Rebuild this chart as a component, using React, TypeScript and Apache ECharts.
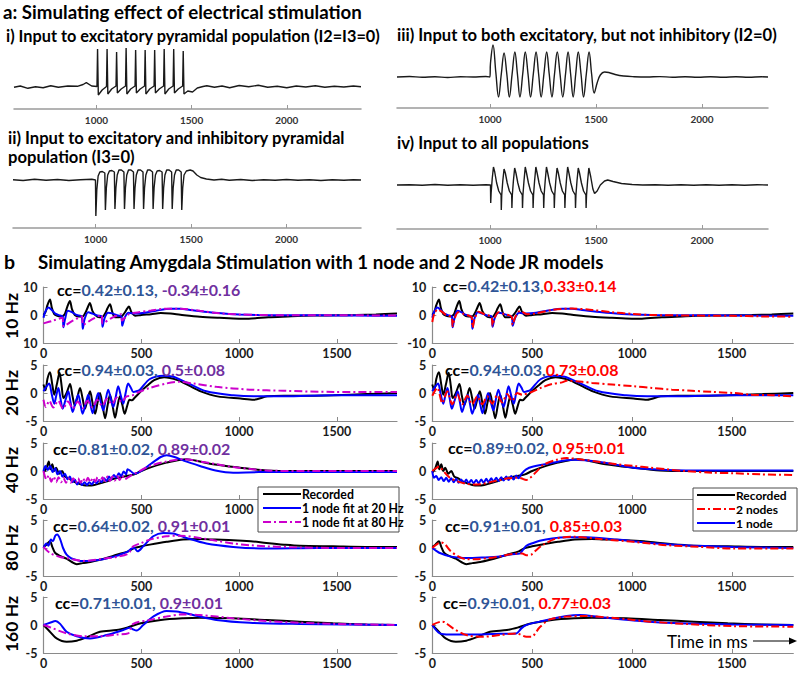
import React, { useEffect, useRef } from "react";
import * as echarts from "echarts";

type Pt = [number, number];

// ---------- Panel a: simulated responses (arbitrary units, 0 = resting level) ----------
const simI: Pt[] = [
  [567, -0.3], [600, 1], [640, -1.3], [680, 0.3], [720, -0.7], [760, 1.3], [800, -0.3], [850, 1], [900, 0.7], [930, 2.5], [947, 4.3], [975, 1], [1003, 0.5],
  [1006, 38], [1010, -8], [1030, -3], [1053, 0.5],
  [1056, 38], [1060, -7], [1080, -2], [1103, 1],
  [1106, 35], [1110, -6], [1130, -2], [1153, 1],
  [1156, 39], [1160, -7], [1180, -2], [1203, 1],
  [1206, 37], [1210, -6], [1230, -2], [1253, 1],
  [1256, 37], [1260, -7], [1280, -2], [1303, 1],
  [1306, 37], [1310, -6], [1330, -2], [1353, 1],
  [1356, 38], [1360, -7], [1380, -2], [1403, 1],
  [1406, 38], [1410, -6], [1430, -2], [1453, 1],
  [1456, 36], [1460, -7], [1480, -4], [1505, -5], [1530, -1], [1560, 0.5], [1580, 1.3], [1620, -0.3], [1660, 1], [1700, -0.7],
  [1750, 1.5], [1800, 0.3], [1850, 1.7], [1900, -0.3], [1950, 0.7], [2000, -0.7], [2050, 1], [2100, 0], [2150, 1.3], [2200, -0.3],
  [2250, 0.7], [2300, 0], [2350, 1], [2390, 0.3],
];

const simII: Pt[] = [
  [567, 0.3], [620, -0.5], [680, 0.7], [740, -0.3], [800, 0.5], [860, -0.5], [920, 0.3], [980, 0.7], [999, 0],
  [1001, -36], [1006, -10], [1013, 4], [1022, 8], [1035, 8.5], [1048, 7],
  [1051, -30], [1056, -8], [1063, 5], [1072, 9], [1085, 9.5], [1098, 8],
  [1101, -29], [1106, -8], [1113, 5], [1122, 10], [1135, 10], [1148, 8],
  [1151, -29], [1156, -8], [1163, 5], [1172, 10], [1185, 10], [1198, 8],
  [1201, -29], [1206, -8], [1213, 5], [1222, 10], [1235, 10], [1248, 8],
  [1251, -29], [1256, -8], [1263, 5], [1272, 10], [1285, 10], [1298, 8],
  [1301, -29], [1306, -8], [1313, 5], [1322, 9], [1335, 9.5], [1348, 8],
  [1351, -29], [1356, -8], [1363, 5], [1372, 10], [1385, 10], [1398, 8],
  [1401, -29], [1406, -8], [1413, 5], [1422, 10], [1435, 10], [1448, 8],
  [1451, -30], [1456, -8], [1463, 5], [1475, 9], [1495, 10], [1510, 9], [1530, 5], [1550, 2.5], [1580, 1], [1620, 0],
  [1660, 0.7], [1700, -0.3], [1760, 0.5], [1820, -0.5], [1880, 0.3], [1940, -0.3], [2000, 0.5], [2060, -0.3], [2120, 0.3],
  [2180, -0.5], [2240, 0.3], [2300, -0.3], [2350, 0.3], [2390, 0],
];

const simIII: Pt[] = [
  [561, 0], [620, 0.5], [680, -0.3], [740, 0.3], [800, -0.5], [860, 0.3], [920, 0], [980, 0.5], [999, 0],
  [1002, 14], [1014, 32], [1027, 5], [1040, -20], [1053, 3], [1066, 24], [1079, 3], [1091, -20], [1104, 3], [1117, 25],
  [1129, 3], [1141, -20], [1154, 3], [1166, 25], [1179, 3], [1191, -20], [1204, 3], [1217, 25], [1229, 3], [1241, -20],
  [1254, 3], [1267, 25], [1279, 3], [1292, -20], [1304, 3], [1317, 25], [1330, 3], [1343, -20], [1356, 3], [1368, 25],
  [1380, 3], [1392, -20], [1404, 3], [1416, 25], [1429, 3], [1441, -20], [1454, 3], [1467, 25], [1479, 3], [1491, -16],
  [1505, -6], [1520, 2], [1540, 5], [1560, 4.5], [1590, 2.5], [1630, 1], [1680, 0.3], [1740, 0], [1800, 0.4], [1860, -0.2],
  [1920, 0.3], [1980, -0.3], [2040, 0.2], [2100, -0.2], [2160, 0.3], [2220, -0.2], [2280, 0.2], [2311, 0],
];

const simIV: Pt[] = [
  [561, 0], [620, 0.3], [680, -0.3], [740, 0.5], [800, -0.3], [860, 0.3], [920, -0.3], [980, 0.3], [1002, 0],
  [1003, -18], [1005, -8], [1010, 6], [1016, 18], [1022, 13], [1031, 2], [1041, -6], [1052, -10],
  [1053, -25], [1055, -10], [1060, 4], [1066, 16], [1072, 12], [1081, 2], [1091, -6], [1102, -10],
  [1103, -23], [1105, -10], [1110, 4], [1116, 17], [1122, 12], [1131, 2], [1141, -6], [1152, -10],
  [1153, -23], [1155, -10], [1160, 4], [1166, 18], [1172, 12], [1181, 2], [1191, -6], [1202, -10],
  [1203, -23], [1205, -10], [1210, 4], [1216, 18], [1222, 12], [1231, 2], [1241, -6], [1252, -10],
  [1253, -23], [1255, -10], [1260, 4], [1266, 18], [1272, 12], [1281, 2], [1291, -6], [1302, -10],
  [1303, -23], [1305, -10], [1310, 4], [1316, 17], [1322, 12], [1331, 2], [1341, -6], [1352, -10],
  [1353, -23], [1355, -10], [1360, 4], [1366, 18], [1372, 12], [1381, 2], [1391, -6], [1402, -10],
  [1403, -23], [1405, -10], [1410, 4], [1416, 17], [1422, 12], [1431, 2], [1441, -6], [1452, -10],
  [1453, -23], [1455, -10], [1460, 4], [1466, 17], [1475, 8], [1485, -4], [1493, -8.5], [1505, -6], [1520, 0], [1540, 4],
  [1555, 5], [1580, 3.5], [1620, 1.5], [1670, 0.5], [1720, 0], [1780, 0.3], [1840, -0.2], [1900, 0.3], [1960, -0.2],
  [2020, 0.2], [2080, -0.3], [2140, 0.2], [2200, -0.2], [2260, 0.3], [2311, 0],
];

// ---------- Panel b: recorded vs. model responses (mV) ----------
const rec10: Pt[] = [
  [0, 0], [10, 1], [20, 3.5], [33, 5.5], [43, 2.5], [55, 0.3], [70, -0.3], [90, -0.5], [100, -0.3], [110, 0.5], [122, 3], [135, 5],
  [146, 2], [160, 0], [180, -0.5], [200, -0.5], [212, 0.5], [225, 2.5], [237, 4.3], [250, 1.5], [265, 0], [285, -0.8], [300, -0.8],
  [315, 0.5], [328, 2.5], [340, 3.8], [352, 1], [365, -0.8], [385, -0.8], [400, -0.5], [415, 0.8], [428, 2.3], [437, 3], [450, 1],
  [470, -0.3], [500, 0], [550, 0.3], [600, 0.7], [650, 0.5], [700, 0.1], [800, -0.6], [900, -1], [1000, -1.3], [1050, -1.3],
  [1150, -0.8], [1250, -0.5], [1320, -0.3], [1400, -0.2], [1500, -0.1], [1600, 0], [1700, 0.2], [1808, 0.5],
];
const blue10: Pt[] = [
  [0, -1], [8, 1], [25, 2.7], [40, 2], [60, 0.5], [85, -0.2], [98, -0.5], [102, -4.4], [110, -1.5], [125, 1.5], [145, 1], [170, 0],
  [195, -0.5], [201, -4.9], [210, -1.5], [228, 1], [250, 0.5], [275, -0.2], [297, -0.5], [302, -4.2], [312, -1.2], [330, 0.8],
  [355, 0.5], [380, -0.2], [398, -0.5], [403, -3.8], [415, -1], [435, 0.8], [470, 0.5], [520, 0.8], [580, 1.6], [650, 2.2],
  [700, 2.2], [750, 1.8], [850, 1], [950, 0.4], [1000, 0.2], [1100, 0], [1200, -0.1], [1400, -0.1], [1600, -0.2], [1808, -0.3],
];
const mag10: Pt[] = [
  [0, -3], [50, -2], [97, -1], [102, -4], [150, -2], [197, -0.5], [202, -3.5], [250, -1.5], [297, 0], [302, -3], [350, -1],
  [397, 0.3], [402, -2], [430, 0], [470, 0.8], [550, 1.6], [620, 2.2], [700, 2.2], [800, 1.5], [900, 0.6], [1000, 0.2],
  [1100, 0], [1300, -0.1], [1500, -0.1], [1808, -0.2],
];
const red10: Pt[] = [
  [0, -2.5], [10, 0.5], [28, 2], [45, 1.3], [70, 0], [97, -0.8], [102, -4], [112, -1.2], [130, 1], [160, 0.3], [197, -0.8],
  [202, -4.5], [212, -1.3], [232, 1.2], [260, 0.3], [297, -0.8], [302, -3.8], [312, -1], [332, 1], [360, 0.3], [397, -0.6],
  [402, -3.5], [415, -0.8], [440, 1.5], [475, 0.3], [520, 0.6], [600, 1.8], [700, 2.3], [800, 1.8], [900, 1], [1000, 0.4],
  [1100, 0], [1300, -0.2], [1500, -0.3], [1650, -0.5], [1808, -0.6],
];

const rec20: Pt[] = [
  [0, 1.5], [10, 0.5], [20, 2.5], [33, 3.7], [45, 1.5], [55, -0.3], [68, 1.5], [82, 3.6], [93, 1.2], [102, -0.9], [118, 0],
  [136, 1.6], [148, -0.5], [160, -2.2], [173, -0.8], [187, 0.9], [200, -1], [212, -2.8], [225, -1.2], [238, 0.3], [251, -1.8],
  [264, -3.7], [276, -1.8], [289, 0], [302, -2.2], [315, -4.5], [328, -2.2], [340, -0.3], [353, -2.2], [366, -4.4], [378, -2.4],
  [391, -0.6], [403, -2.1], [415, -3.7], [428, -2.3], [440, -1.2], [452, -1.3], [465, -0.9], [498, 0.3], [530, 1.3], [566, 2.3],
  [617, 2.8], [685, 2.3], [745, 1.3], [804, 0.3], [889, -0.6], [1008, -1], [1076, -1.2], [1144, -0.6], [1230, -0.5],
  [1314, -0.5], [1484, -0.4], [1654, -0.2], [1808, 0],
];
const blue20: Pt[] = [
  [0, 0.3], [12, 1], [29, 1.7], [42, -0.2], [55, -1.9], [65, -0.5], [76, 0.9], [87, -1], [98, -2.8], [112, -1.3], [127, 0.3],
  [138, -1.6], [149, -3.4], [163, -1.8], [178, -0.3], [189, -2], [200, -3.7], [215, -2], [229, -0.3], [240, -2], [251, -3.6],
  [265, -1.8], [280, 0], [293, -1.6], [306, -3.1], [318, -1.2], [331, 0.6], [344, -1], [357, -2.5], [370, -0.6], [382, 1.2],
  [395, -0.4], [408, -1.9], [420, 0], [433, 1.7], [446, 1], [459, 0.2], [475, 0.3], [493, 0.6], [544, 2.5], [612, 3.1],
  [663, 2.9], [731, 1.9], [833, 0.3], [970, -0.4], [1076, -0.6], [1229, -0.6], [1484, -0.4], [1808, -0.4],
];
const mag20: Pt[] = [
  [0, -1.2], [12, -2.5], [30, -1.4], [50, -2.6], [75, -1.4], [100, -2.8], [125, -1.5], [150, -2.8], [175, -1.5], [200, -2.7],
  [225, -1.4], [250, -2.6], [275, -1.2], [300, -2.3], [325, -1], [350, -2], [375, -0.8], [400, -1.6], [425, -0.6], [450, -0.5],
  [490, 0.2], [544, 0.9], [629, 1.7], [697, 2], [765, 1.7], [884, 1.1], [1055, 0.6], [1229, 0.4], [1484, 0.2], [1808, 0.2],
];
const red20: Pt[] = [
  [0, -0.5], [25, 0.9], [50, -1.8], [75, 0.3], [100, -2], [125, -0.2], [150, -2], [175, -0.5], [200, -2], [225, -0.6],
  [250, -2], [275, -0.6], [300, -1.9], [325, -0.4], [350, -1.7], [375, -0.2], [400, -1.4], [425, 0], [450, -0.3], [500, 0.2],
  [550, 1], [600, 1.6], [650, 1.9], [673, 2.2], [750, 2], [800, 1.8], [900, 1.5], [1010, 1.2], [1100, 0.9], [1200, 0.6],
  [1300, 0.4], [1400, 0.2], [1508, 0], [1600, -0.3], [1700, -0.4], [1808, -0.6],
];

const rec40: Pt[] = [
  [0, -0.3], [15, 0.5], [27, 1.7], [35, 0.3], [45, 1.2], [55, 0], [65, 0.6], [80, -0.5], [95, 0], [110, -1], [130, -1.3],
  [150, -1.8], [175, -2.2], [200, -2.5], [230, -2.6], [260, -2.5], [290, -2.2], [320, -1.9], [350, -1.5], [380, -1.2],
  [410, -1], [440, -0.8], [464, -0.6], [500, 0], [544, 0.6], [629, 1.5], [731, 2.1], [800, 1.7], [867, 1.2], [1004, 0.6],
  [1140, 0.1], [1300, 0], [1500, 0], [1808, 0],
];
const blue40L: Pt[] = [
  [0, 0], [10, 0.9], [22, 0.2], [35, 0.9], [47, -0.2], [60, 0.5], [72, -0.6], [85, 0], [97, -1], [110, -0.5], [122, -1.5],
  [135, -1], [147, -2], [160, -1.5], [172, -2.4], [185, -1.9], [197, -2.5], [210, -2], [222, -2.5], [235, -2], [247, -2.4],
  [260, -1.8], [272, -2.2], [285, -1.6], [297, -2], [310, -1.3], [322, -1.8], [335, -1], [347, -1.5], [360, -0.7],
  [372, -1.2], [385, -0.4], [397, -0.9], [410, -0.1], [422, -0.6], [430, 0.3], [445, 0], [465, -0.5], [500, 0], [550, 1.3],
  [600, 2.5], [630, 2.8], [670, 2.5], [720, 1.8], [800, 0.9], [880, 0.1], [970, -0.3], [1100, -0.2], [1400, -0.2], [1808, -0.2],
];
const mag40: Pt[] = [
  [0, 0], [15, -1.5], [27, -0.8], [40, -1.9], [52, -1], [65, -2], [77, -1.1], [90, -2], [102, -1.2], [115, -2.1], [127, -1.3],
  [140, -2.1], [152, -1.3], [165, -2.1], [177, -1.3], [190, -2.1], [202, -1.3], [215, -2], [227, -1.2], [240, -2], [252, -1.2],
  [265, -1.9], [277, -1.1], [290, -1.9], [302, -1.1], [315, -1.8], [327, -1], [340, -1.8], [352, -1], [365, -1.7], [377, -0.9],
  [390, -1.6], [402, -0.8], [415, -1.5], [430, -1.2], [465, -0.5], [545, 0.9], [630, 1.7], [715, 2.1], [800, 1.7], [885, 1.2],
  [970, 0.7], [1140, 0.1], [1300, 0], [1808, 0],
];
const blue40R: Pt[] = [
  [0, 0], [8, -1.2], [20, -0.9], [32, -1.6], [45, -1.1], [57, -1.8], [70, -1.2], [82, -1.9], [95, -1.3], [107, -2], [120, -1.4],
  [132, -2.1], [145, -1.5], [157, -2.2], [170, -1.5], [182, -2.2], [195, -1.6], [207, -2.2], [220, -1.6], [232, -2.2],
  [245, -1.5], [257, -2.1], [270, -1.4], [282, -2], [295, -1.3], [307, -1.9], [320, -1.2], [332, -1.8], [345, -1.1],
  [357, -1.7], [370, -1], [382, -1.6], [395, -0.9], [407, -1.5], [420, -0.8], [432, -1.3], [445, -0.6], [470, 0.3], [506, 0.8],
  [590, 1.4], [707, 2], [841, 1.6], [1008, 0.6], [1175, 0.2], [1400, 0.1], [1808, 0.1],
];
const red40: Pt[] = [
  [0, 0], [15, 0.4], [35, 0.8], [55, 0], [88, -1.2], [130, -1.9], [171, -2.3], [210, -2.4], [254, -2.3], [300, -1.9],
  [338, -1.6], [380, -1.3], [421, -1.2], [445, -1.3], [471, -1.6], [490, -1.2], [506, -0.7], [530, 0.2], [556, 1.1], [622, 2],
  [673, 2.3], [757, 2], [840, 1.6], [924, 1.2], [1008, 0.9], [1091, 0.6], [1175, 0.3], [1258, 0], [1400, -0.3], [1508, -0.4],
  [1650, -0.6], [1808, -0.7],
];

const rec80: Pt[] = [
  [0, 0.2], [15, 0.6], [33, 1.2], [45, 0.2], [60, -0.9], [90, -1.5], [118, -1.9], [145, -2.5], [170, -2.9], [200, -2.7],
  [240, -2.5], [289, -2.1], [330, -1.7], [374, -1.2], [433, -0.6], [464, 0], [500, 0.3], [544, 0.6], [630, 1.1], [714, 1.5],
  [799, 1.6], [880, 1.5], [970, 1.4], [1060, 1.2], [1140, 0.9], [1230, 0.6], [1310, 0.4], [1480, 0.3], [1650, 0.2], [1808, 0.2],
];
const blue80L: Pt[] = [
  [0, 0], [15, 0.8], [25, 0.4], [38, 1.5], [48, 1.2], [60, 2.2], [70, 2.4], [85, 1.6], [100, 0], [118, -1.2], [140, -1.8],
  [165, -2.1], [186, -2.3], [230, -2.3], [289, -2.1], [330, -1.8], [374, -1.4], [405, -1], [433, -0.6], [450, -0.1], [464, 0],
  [481, -0.6], [510, 0.3], [561, 2.1], [612, 2.7], [663, 2.6], [731, 1.8], [833, 0.8], [970, 0.2], [1140, -0.1], [1400, 0],
  [1808, 0],
];
const mag80: Pt[] = [
  [0, 0.2], [33, -0.9], [85, -1.6], [118, -1.8], [160, -2.1], [204, -2.3], [250, -2.2], [289, -2], [330, -1.8], [374, -1.6],
  [433, -1], [459, 0.3], [500, 0.9], [544, 1.5], [629, 2.1], [697, 2.2], [799, 1.8], [884, 1.3], [970, 0.8], [1055, 0.5],
  [1140, 0.3], [1310, 0.1], [1500, 0], [1808, 0],
];
const blue80R: Pt[] = [
  [0, 0], [20, -0.5], [38, -0.9], [88, -1.5], [130, -1.7], [171, -1.8], [250, -1.7], [338, -1.5], [400, -1.1], [437, -1],
  [455, -0.3], [471, 0.4], [505, 0.9], [538, 1.3], [600, 1.7], [673, 1.9], [773, 1.9], [924, 1.5], [1091, 0.9], [1258, 0.5],
  [1508, 0.2], [1808, 0],
];
const red80: Pt[] = [
  [0, 0], [20, 0.6], [45, 1], [65, 0.6], [90, -0.5], [130, -1.5], [171, -2], [220, -2], [280, -1.8], [338, -1.5], [421, -1],
  [450, -1], [471, -1.3], [495, -1.2], [520, -0.4], [556, 0.6], [622, 1.7], [706, 2], [840, 1.6], [1008, 1.1], [1175, 0.5],
  [1340, 0.2], [1508, -0.1], [1808, -0.1],
];

const rec160: Pt[] = [
  [0, 0], [33, -1.2], [67, -2.4], [118, -3], [170, -2.8], [221, -2.2], [289, -1.2], [374, -0.9], [433, -0.4], [498, 0.3],
  [600, 0.9], [714, 1.2], [799, 1.3], [970, 1.2], [1140, 0.9], [1310, 0.6], [1480, 0.3], [1651, 0.1], [1808, 0],
];
const blue160L: Pt[] = [
  [0, 0], [33, 0.4], [62, 0.7], [85, 0.2], [118, -1.2], [170, -2], [238, -2.4], [323, -1.8], [408, -0.9], [442, -0.5],
  [459, -0.8], [476, -1], [510, 0], [561, 1.5], [629, 2.5], [680, 2.4], [765, 1.8], [884, 0.9], [1055, 0.4], [1310, 0.2],
  [1808, 0],
];
const mag160: Pt[] = [
  [0, 0], [33, -0.4], [118, -1.5], [204, -2], [289, -2], [374, -1.7], [433, -1.5], [459, 0.2], [544, 0.9], [629, 1.5],
  [714, 1.9], [799, 1.8], [970, 1.2], [1140, 0.7], [1310, 0.4], [1480, 0.2], [1808, 0],
];
const blue160R: Pt[] = [
  [0, 0], [38, -1.5], [88, -1.7], [200, -1.7], [300, -1.6], [421, -1.5], [446, -0.6], [471, 0], [538, 0.6], [673, 1.6],
  [740, 1.8], [841, 1.4], [1008, 0.8], [1175, 0.4], [1508, 0.1], [1808, 0],
];
const red160: Pt[] = [
  [0, 0], [45, 0.6], [62, 0.5], [104, -0.6], [171, -1.8], [254, -2.1], [338, -1.8], [421, -1.5], [471, -2.1], [496, -2.1],
  [538, -0.4], [589, 1], [673, 1.5], [757, 1.6], [924, 1.2], [1091, 0.6], [1258, 0.2], [1508, -0.2], [1808, -0.3],
];

// ---------- Texts ----------
const titleA = "a: Simulating effect of electrical stimulation";
const subTitles = [
  "i) Input to excitatory pyramidal population (I2=I3=0)",
  "iii) Input to both excitatory, but not inhibitory (I2=0)",
  "ii) Input to excitatory and inhibitory pyramidal",
  "population (I3=0)",
  "iv) Input to all populations",
];
const titleB = "Simulating Amygdala Stimulation with 1 node and 2 Node JR models";
const rowLabels = ["10 Hz", "20 Hz", "40 Hz", "80 Hz", "160 Hz"];
const ccLeftBlue = ["0.42±0.13", "0.94±0.03", "0.81±0.02", "0.64±0.02", "0.71±0.01"];
const ccLeftPurple = ["-0.34±0.16", "0.5±0.08", "0.89±0.02", "0.91±0.01", "0.9±0.01"];
const ccRightBlue = ["0.42±0.13", "0.94±0.03", "0.89±0.02", "0.91±0.01", "0.9±0.01"];
const ccRightRed = ["0.33±0.14", "0.73±0.08", "0.95±0.01", "0.85±0.03", "0.77±0.03"];
const ccRightSpace = [false, false, true, true, true];
const legendLeft = ["Recorded", "1 node fit at 20 Hz", "1 node fit at 80 Hz"];
const legendRight = ["Recorded", "2 nodes", "1 node"];
const topTicks = [1000, 1500, 2000];
const bTicks = [0, 500, 1000, 1500];
const bTicksUnderLegend = [0, 500, 1000];

const FONT = "Lato, 'Noto Sans', sans-serif";
const BLACK = "#000000";
const BLUE = "#0000ff";
const MAGENTA = "#cc00cc";
const RED = "#ff0000";
const TXT_BLUE = "#2f5597";
const TXT_PURPLE = "#7030a0";
const AXIS = "#8a8a8a";
const DASHDOT = [8, 3, 2, 3];

function buildOption() {
  const grid: any[] = [];
  const xAxis: any[] = [];
  const yAxis: any[] = [];
  const series: any[] = [];
  const plain = (v: number) => String(v);

  const addTop = (left: number, top: number, width: number, height: number, xmin: number, xmax: number, ymin: number, ymax: number, data: Pt[], smooth: boolean) => {
    const i = grid.length;
    grid.push({ left, top, width, height, containLabel: false, outerBoundsMode: "none" });
    xAxis.push({
      gridIndex: i, type: "value", min: xmin, max: xmax,
      axisLine: { show: true, onZero: false, lineStyle: { color: "#9a9a9a", width: 1.5 } },
      axisTick: { show: true, inside: true, length: 4, customValues: topTicks, lineStyle: { color: "#9a9a9a", width: 1 } },
      axisLabel: { show: true, customValues: topTicks, formatter: plain, fontSize: 10, fontWeight: "bold", fontFamily: FONT, color: "#333", margin: 6 },
      splitLine: { show: false },
    });
    yAxis.push({ gridIndex: i, type: "value", min: ymin, max: ymax, show: false, splitLine: { show: false } });
    series.push({
      type: "line", xAxisIndex: i, yAxisIndex: i, data, symbol: "none", showSymbol: false, smooth: smooth ? 0.4 : false,
      lineStyle: { color: "#1a1a1a", width: 1.4 }, silent: true,
    });
  };

  addTop(14, 44, 347, 65, 567, 2390, -22, 43, simI, false);
  addTop(13, 160, 348, 68, 567, 2390, -48, 20, simII, false);
  addTop(397, 40, 371, 68, 561, 2311, -31, 37, simIII, true);
  addTop(397, 160, 371, 69, 561, 2311, -44, 25, simIV, false);

  const rowTops = [287, 365, 443, 520, 597];
  const addB = (left: number, width: number, row: number, lines: { d: Pt[]; c: string; dash?: boolean }[], absLabels: boolean) => {
    const i = grid.length;
    const lim = row === 0 ? 10 : 5;
    const labelVals = row === 2 ? bTicksUnderLegend : bTicks;
    grid.push({ left, top: rowTops[row], width, height: 56, containLabel: false, outerBoundsMode: "none" });
    xAxis.push({
      gridIndex: i, type: "value", min: 0, max: 1808,
      axisLine: { show: true, onZero: false, lineStyle: { color: AXIS, width: 1.2 } },
      axisTick: { show: true, inside: true, length: 4, customValues: bTicks, lineStyle: { color: AXIS } },
      axisLabel: { show: true, customValues: labelVals, formatter: plain, fontSize: 12.5, fontWeight: "bold", fontFamily: FONT, color: "#1a1a1a", margin: 4, lineHeight: 13 },
      splitLine: { show: false },
    });
    yAxis.push({
      gridIndex: i, type: "value", min: -lim, max: lim, interval: lim,
      axisLine: { show: true, onZero: false, lineStyle: { color: AXIS, width: 1.2 } },
      axisTick: { show: true, inside: true, length: 4, lineStyle: { color: AXIS } },
      axisLabel: {
        show: true, fontSize: 12.5, fontWeight: "bold", fontFamily: FONT, color: "#1a1a1a", margin: 6,
        formatter: (v: number) => (absLabels ? String(Math.abs(v)) : String(v)),
      },
      splitLine: { show: false },
    });
    lines.forEach((l) => {
      series.push({
        type: "line", xAxisIndex: i, yAxisIndex: i, data: l.d, symbol: "none", showSymbol: false, silent: true,
        smooth: 0.3,
        lineStyle: { color: l.c, width: 2, type: l.dash ? DASHDOT : "solid" },
      });
    });
  };

  const L = 43.5, LW = 353.5, R = 432.3, RW = 361;
  addB(L, LW, 0, [{ d: rec10, c: BLACK }, { d: blue10, c: BLUE }, { d: mag10, c: MAGENTA, dash: true }], true);
  addB(R, RW, 0, [{ d: rec10, c: BLACK }, { d: blue10, c: BLUE }, { d: red10, c: RED, dash: true }], false);
  addB(L, LW, 1, [{ d: rec20, c: BLACK }, { d: blue20, c: BLUE }, { d: mag20, c: MAGENTA, dash: true }], false);
  addB(R, RW, 1, [{ d: rec20, c: BLACK }, { d: blue20, c: BLUE }, { d: red20, c: RED, dash: true }], false);
  addB(L, LW, 2, [{ d: rec40, c: BLACK }, { d: blue40L, c: BLUE }, { d: mag40, c: MAGENTA, dash: true }], false);
  addB(R, RW, 2, [{ d: rec40, c: BLACK }, { d: blue40R, c: BLUE }, { d: red40, c: RED, dash: true }], false);
  addB(L, LW, 3, [{ d: rec80, c: BLACK }, { d: blue80L, c: BLUE }, { d: mag80, c: MAGENTA, dash: true }], false);
  addB(R, RW, 3, [{ d: rec80, c: BLACK }, { d: blue80R, c: BLUE }, { d: red80, c: RED, dash: true }], false);
  addB(L, LW, 4, [{ d: rec160, c: BLACK }, { d: blue160L, c: BLUE }, { d: mag160, c: MAGENTA, dash: true }], false);
  addB(R, RW, 4, [{ d: rec160, c: BLACK }, { d: blue160R, c: BLUE }, { d: red160, c: RED, dash: true }], false);

  const txt = (x: number, y: number, text: string, size: number, weight = "bold", lineHeight?: number) => ({
    type: "text", x, y, z: 100,
    style: { text, fontSize: size, fontWeight: weight, fontFamily: FONT, fill: "#000", align: "left", verticalAlign: "middle", ...(lineHeight ? { lineHeight } : {}) },
  });

  const graphic: any[] = [];
  graphic.push(txt(3, 12, titleA, 18.7));
  graphic.push(txt(6, 35, subTitles[0], 16.3));
  graphic.push(txt(397, 35, subTitles[1], 16.6));
  graphic.push(txt(8, 138, subTitles[2], 16.6));
  graphic.push(txt(8, 157, subTitles[3], 16.6));
  graphic.push(txt(397, 143, subTitles[4], 16.6));
  graphic.push(txt(4, 261, "b", 19.5));
  graphic.push(txt(38, 262, titleB, 18.7));

  const rowCenters = [316, 393, 470, 548, 624];
  rowLabels.forEach((t, k) => {
    graphic.push({
      type: "text", x: 11, y: rowCenters[k], rotation: Math.PI / 2, z: 100,
      style: { text: t, fontSize: 17.5, fontWeight: "bold", fontFamily: FONT, fill: "#000", align: "center", verticalAlign: "middle" },
    });
  });

  const CC = 16;
  const ccRich = (col: string) => ({
    k: { fill: "#000", fontSize: CC, fontWeight: "bold", fontFamily: FONT, lineHeight: 15 },
    b: { fill: TXT_BLUE, fontSize: CC, fontWeight: "bold", fontFamily: FONT, lineHeight: 15 },
    o: { fill: col, fontSize: CC, fontWeight: "bold", fontFamily: FONT, lineHeight: 15 },
  });
  const ccLeftPos = [[57, 289], [57, 369], [53, 448], [53, 525], [55, 602]];
  const ccRightPos = [[443, 285], [445, 369], [448, 447], [445, 525], [443, 602]];
  for (let k = 0; k < 5; k++) {
    graphic.push({
      type: "text", x: ccLeftPos[k][0], y: ccLeftPos[k][1], z: 100,
      style: { text: `{k|cc=}{b|${ccLeftBlue[k]},}{o| ${ccLeftPurple[k]}}`, rich: ccRich(TXT_PURPLE), align: "left", verticalAlign: "middle", fontSize: CC, fontFamily: FONT },
    });
    graphic.push({
      type: "text", x: ccRightPos[k][0], y: ccRightPos[k][1], z: 100,
      style: { text: `{k|cc=}{b|${ccRightBlue[k]},}{o|${ccRightSpace[k] ? " " : ""}${ccRightRed[k]}}`, rich: ccRich(RED), align: "left", verticalAlign: "middle", fontSize: CC, fontFamily: FONT },
    });
  }

  // legends
  const legend = (x: number, y: number, w: number, h: number, lx1: number, lx2: number, tx: number, ys: number[], labels: string[], colors: string[], dashes: boolean[], fs: number) => {
    graphic.push({ type: "rect", z: 90, shape: { x, y, width: w, height: h }, style: { fill: "#fff", stroke: "#4d4d4d", lineWidth: 1 } });
    labels.forEach((lab, k) => {
      graphic.push({ type: "line", z: 95, shape: { x1: lx1, y1: ys[k], x2: lx2, y2: ys[k] }, style: { stroke: colors[k], lineWidth: 2, lineDash: dashes[k] ? DASHDOT : null } });
      graphic.push(txt(tx, ys[k], lab, fs, "bold", 12));
    });
  };
  legend(258, 487, 141, 45, 263, 301, 302, [494, 508, 522], legendLeft, [BLACK, BLUE, MAGENTA], [false, false, true], 12.3);
  legend(693, 488, 104, 43, 697, 735, 736, [495, 509, 523], legendRight, [BLACK, RED, BLUE], [false, true, false], 12);

  graphic.push(txt(667, 641, "Time in ms", 17, "normal"));
  graphic.push({ type: "line", z: 100, shape: { x1: 753, y1: 641, x2: 791, y2: 641 }, style: { stroke: "#000", lineWidth: 1 } });
  graphic.push({ type: "polygon", z: 100, shape: { points: [[789, 637.5], [797, 641], [789, 644.5]] }, style: { fill: "#000" } });

  return { animation: false, backgroundColor: "#fff", grid, xAxis, yAxis, series, graphic };
}

export default function App() {
  const ref = useRef<HTMLDivElement>(null);
  useEffect(() => {
    document.body.style.margin = "0";
    const chart = echarts.init(ref.current!, null, { renderer: "svg" });
    chart.setOption(buildOption() as any);
    return () => chart.dispose();
  }, []);
  return <div ref={ref} style={{ width: 800, height: 673 }} />;
}
